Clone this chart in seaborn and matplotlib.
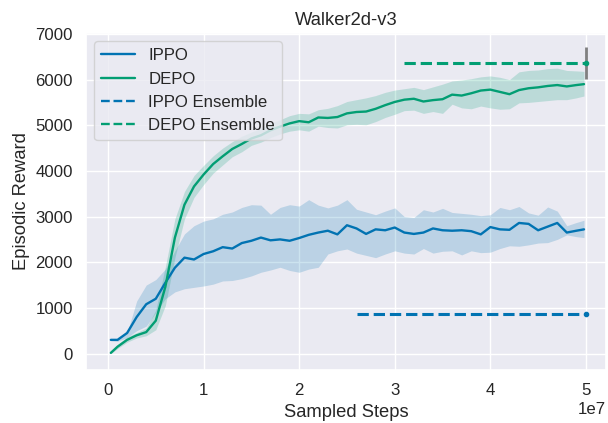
import matplotlib
matplotlib.use('Agg')
import matplotlib.pyplot as plt
import seaborn as sns
import numpy as np

# Sampled steps (x 1e7)
steps = [0.03, 0.1, 0.2, 0.3, 0.4, 0.5, 0.6, 0.7, 0.8, 0.9,
         1.0, 1.1, 1.2, 1.3, 1.4, 1.5, 1.6, 1.7, 1.8, 1.9,
         2.0, 2.1, 2.2, 2.3, 2.4, 2.5, 2.6, 2.7, 2.8, 2.9,
         3.0, 3.1, 3.2, 3.3, 3.4, 3.5, 3.6, 3.7, 3.8, 3.9,
         4.0, 4.1, 4.2, 4.3, 4.4, 4.5, 4.6, 4.7, 4.8, 4.9, 4.98]

ippo_mean = [300, 300, 450, 800, 1080, 1200, 1550, 1880, 2100, 2060,
             2180, 2240, 2330, 2300, 2420, 2470, 2540, 2480, 2500, 2470,
             2530, 2600, 2650, 2690, 2610, 2810, 2740, 2620, 2720, 2700,
             2760, 2650, 2620, 2650, 2740, 2700, 2690, 2700, 2680, 2610,
             2770, 2720, 2710, 2860, 2840, 2700, 2780, 2860, 2650, 2690, 2720]
ippo_upper = [320, 330, 450, 1150, 1500, 1620, 1850, 2250, 2620, 2800,
              2900, 2950, 3050, 3100, 3200, 3260, 3250, 3050, 3200, 3260,
              3230, 3370, 3250, 3190, 3250, 3370, 3160, 3100, 3040, 3120,
              3190, 3000, 2980, 3150, 3100, 3180, 3090, 3070, 3050, 3020,
              3040, 3200, 3150, 3220, 3080, 3030, 3210, 3120, 2800, 2870, 2920]
ippo_lower = [280, 270, 350, 500, 600, 900, 1200, 1350, 1420, 1450,
              1480, 1520, 1590, 1600, 1640, 1700, 1780, 1830, 1890, 1820,
              1780, 1850, 1890, 2180, 2250, 2290, 2200, 2150, 2100, 2180,
              2250, 2200, 2180, 2300, 2200, 2240, 2250, 2160, 2250, 2210,
              2220, 2300, 2360, 2350, 2380, 2420, 2430, 2500, 2600, 2560, 2540]

depo_mean = [15, 150, 300, 400, 470, 720, 1460, 2540, 3260, 3660,
             3920, 4150, 4320, 4480, 4590, 4710, 4780, 4890, 4970, 5040,
             5090, 5065, 5170, 5160, 5180, 5260, 5290, 5300, 5360, 5440,
             5510, 5560, 5580, 5520, 5550, 5570, 5670, 5650, 5700, 5760,
             5780, 5730, 5680, 5770, 5810, 5830, 5860, 5880, 5850, 5880, 5900]
depo_upper = [40, 200, 360, 460, 560, 950, 1900, 2950, 3550, 3900,
              4120, 4330, 4500, 4640, 4760, 4850, 4930, 5040, 5120, 5210,
              5260, 5250, 5340, 5370, 5430, 5520, 5560, 5600, 5650, 5720,
              5770, 5800, 5830, 5780, 5840, 5900, 5970, 5990, 6020, 6060,
              6080, 6050, 6000, 6170, 6200, 6210, 6240, 6250, 6200, 6190, 6180]
depo_lower = [0, 110, 250, 340, 390, 520, 1050, 2100, 2950, 3420,
              3700, 3950, 4130, 4310, 4420, 4560, 4630, 4730, 4810, 4870,
              4900, 4870, 4980, 4950, 4940, 5010, 5020, 5010, 5080, 5170,
              5240, 5320, 5330, 5260, 5300, 5260, 5460, 5380, 5360, 5420,
              5380, 5350, 5360, 5490, 5500, 5520, 5540, 5560, 5560, 5600, 5640]

# Ensemble results (horizontal reference segments)
ippo_ens_x = [2.6, 5.0]
ippo_ens_y = [870, 870]
ippo_ens_err = 25
depo_ens_x = [3.1, 5.0]
depo_ens_y = [6360, 6360]
depo_ens_err = 350

sns.set_theme(style='darkgrid', palette='colorblind', font_scale=1.1)
plt.rcParams['font.family'] = ['Liberation Sans', 'DejaVu Sans']

blue, green = sns.color_palette('colorblind')[0], sns.color_palette('colorblind')[2]

fig = plt.figure(figsize=(6.08, 4.23), dpi=100)
ax = fig.add_axes([86 / 608, 1 - 370 / 423, (606 - 86) / 608, (370 - 33) / 423])

x = np.array(steps) * 1e7
sns.lineplot(x=x, y=ippo_mean, color=blue, lw=1.7, label='IPPO', ax=ax)
ax.fill_between(x, ippo_lower, ippo_upper, color=blue, alpha=0.2, lw=0)
sns.lineplot(x=x, y=depo_mean, color=green, lw=1.7, label='DEPO', ax=ax)
ax.fill_between(x, depo_lower, depo_upper, color=green, alpha=0.2, lw=0)

ex = np.array(ippo_ens_x) * 1e7
sns.lineplot(x=ex, y=ippo_ens_y, color=blue, lw=2.2, linestyle='--',
             label='IPPO Ensemble', ax=ax)
ax.errorbar(ex[-1], ippo_ens_y[-1], yerr=ippo_ens_err, fmt='o', color=blue,
            ecolor='gray', ms=3, elinewidth=2)
ex = np.array(depo_ens_x) * 1e7
sns.lineplot(x=ex, y=depo_ens_y, color=green, lw=2.2, linestyle='--',
             label='DEPO Ensemble', ax=ax)
ax.errorbar(ex[-1], depo_ens_y[-1], yerr=depo_ens_err, fmt='o', color=green,
            ecolor='gray', ms=3, elinewidth=2)

ax.set_xlim(-0.23e7, 5.21e7)
ax.set_ylim(-360, 7020)
ax.set_yticks(range(0, 7001, 1000))
ax.set_title('Walker2d-v3')
ax.set_xlabel('Sampled Steps')
ax.set_ylabel('Episodic Reward')
leg = ax.legend(loc='upper left')
for line in leg.get_lines():
    line.set_linewidth(1.7)

plt.savefig('out.png', dpi=100)
